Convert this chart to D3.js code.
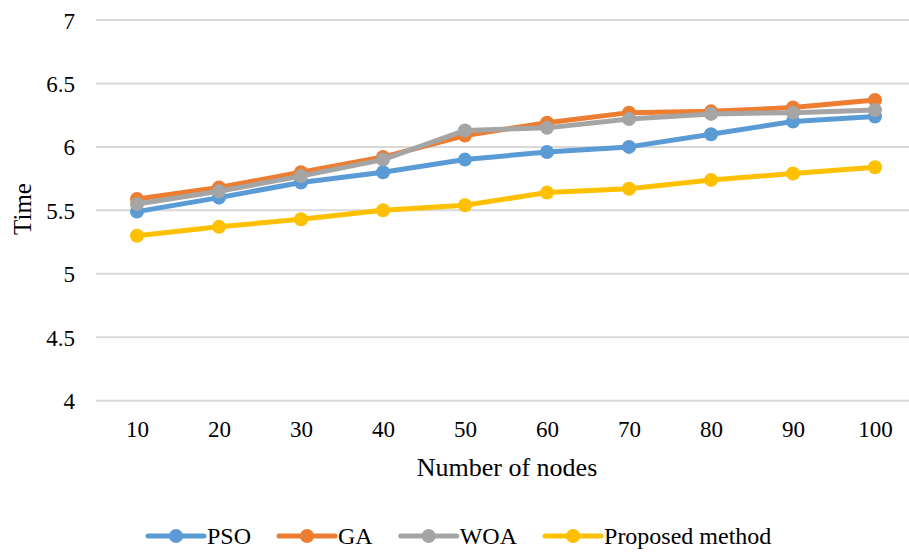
<!DOCTYPE html>
<html>
<head>
<meta charset="utf-8">
<script src="https://cdn.jsdelivr.net/npm/d3@7"></script>
<style>
  html, body { margin: 0; padding: 0; background: #fff; }
  svg { display: block; }
  svg text { font-family: "Liberation Serif", "Times New Roman", Times, "DejaVu Serif", serif !important; }
</style>
</head>
<body>
<svg id="chart" width="909" height="552"></svg>
<script>
const categories = ["10", "20", "30", "40", "50", "60", "70", "80", "90", "100"];
const seriesNames = ["PSO", "GA", "WOA", "Proposed method"];
const psoValues = [5.49, 5.60, 5.72, 5.80, 5.90, 5.96, 6.00, 6.10, 6.20, 6.24];
const gaValues = [5.59, 5.68, 5.80, 5.92, 6.09, 6.19, 6.27, 6.28, 6.31, 6.37];
const woaValues = [5.55, 5.65, 5.77, 5.90, 6.13, 6.15, 6.22, 6.26, 6.27, 6.29];
const proposedValues = [5.30, 5.37, 5.43, 5.50, 5.54, 5.64, 5.67, 5.74, 5.79, 5.84];
const yTicks = [4, 4.5, 5, 5.5, 6, 6.5, 7];
const colors = ["#5B9BD5", "#ED7D31", "#A5A5A5", "#FFC000"];

const series = [
  { name: seriesNames[0], values: psoValues, color: colors[0] },
  { name: seriesNames[1], values: gaValues, color: colors[1] },
  { name: seriesNames[2], values: woaValues, color: colors[2] },
  { name: seriesNames[3], values: proposedValues, color: colors[3] }
];

const svg = d3.select("#chart");

const x = d3.scalePoint().domain(categories).range([96, 916]).padding(0.5);
const y = d3.scaleLinear().domain([4, 7]).range([400.7, 20]);

// gridlines
const grid = svg.append("g");
grid.selectAll("line").data(yTicks).join("line")
  .attr("x1", 96).attr("x2", 909)
  .attr("y1", d => y(d)).attr("y2", d => y(d))
  .attr("stroke", "#d9d9d9").attr("stroke-width", 2);

// y axis labels
const yAxis = d3.axisLeft(y).tickValues(yTicks).tickSize(0).tickPadding(0)
  .tickFormat(d => String(d));
const gy = svg.append("g").attr("transform", "translate(75,0)").call(yAxis);
gy.attr("font-family", null).attr("font-size", null);
gy.select(".domain").remove();
gy.selectAll("text").attr("font-size", 23)
  .attr("fill", "#000").attr("dy", "0.35em").attr("x", 0);

// x axis labels
const xAxis = d3.axisBottom(x).tickSize(0).tickPadding(0);
const gx = svg.append("g").attr("transform", "translate(0,437)").call(xAxis);
gx.attr("font-family", null).attr("font-size", null);
gx.select(".domain").remove();
gx.selectAll("text").attr("font-size", 23)
  .attr("fill", "#000").attr("dy", "0").attr("y", 0);

// axis titles
svg.append("text")
  .attr("transform", "translate(31,209) rotate(-90)")
  .attr("text-anchor", "middle")
  .attr("font-size", 25)
  .attr("fill", "#000")
  .text("Time");

svg.append("text")
  .attr("x", 507).attr("y", 476)
  .attr("text-anchor", "middle")
  .attr("font-size", 26)
  .attr("fill", "#000")
  .text("Number of nodes");

// lines and markers
const line = d3.line().x((d, i) => x(categories[i])).y(d => y(d));
series.forEach(s => {
  const g = svg.append("g");
  g.append("path")
    .attr("d", line(s.values))
    .attr("fill", "none")
    .attr("stroke", s.color)
    .attr("stroke-width", 5)
    .attr("stroke-linejoin", "round")
    .attr("stroke-linecap", "round");
  g.selectAll("circle").data(s.values).join("circle")
    .attr("cx", (d, i) => x(categories[i]))
    .attr("cy", d => y(d))
    .attr("r", 7)
    .attr("fill", s.color);
});

// legend
const legendY = 536;
let lx = 148;
series.forEach(s => {
  const g = svg.append("g");
  g.append("line")
    .attr("x1", lx).attr("x2", lx + 56)
    .attr("y1", legendY).attr("y2", legendY)
    .attr("stroke", s.color).attr("stroke-width", 5).attr("stroke-linecap", "round");
  g.append("circle").attr("cx", lx + 28).attr("cy", legendY).attr("r", 7).attr("fill", s.color);
  const t = g.append("text")
    .attr("x", lx + 59).attr("y", legendY)
    .attr("dy", "0.33em")
    .attr("font-size", 24)
    .attr("fill", "#000")
    .text(s.name);
  lx = lx + 59 + t.node().getComputedTextLength() + 28;
});
</script>
</body>
</html>
